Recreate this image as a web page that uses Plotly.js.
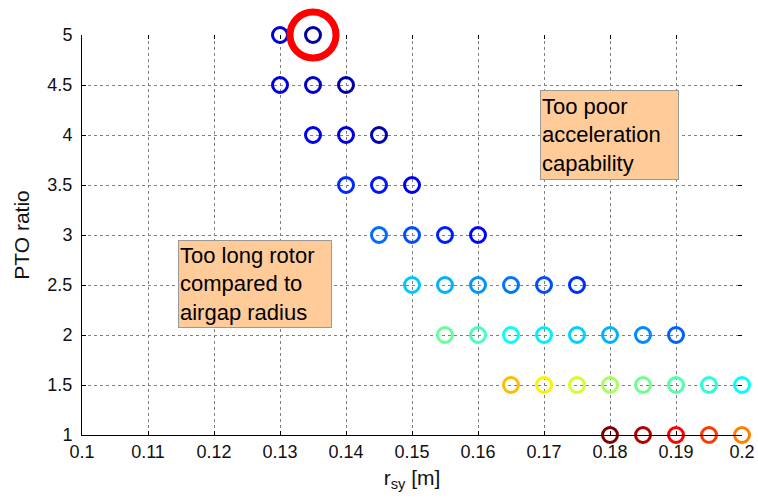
<!DOCTYPE html>
<html>
<head>
<meta charset="utf-8">
<script src="https://cdn.plot.ly/plotly-3.0.1.min.js"></script>
<style>
  html, body { margin: 0; padding: 0; background: #fff; }
  #chart { width: 758px; height: 504px; }
</style>
</head>
<body>
<div id="chart"></div>
<script>
// Design points: stator yoke radius r_sy [m] vs PTO ratio, one row per ratio
const ptoRatios = [5, 4.5, 4, 3.5, 3, 2.5, 2, 1.5, 1];

const rsyByRatio = [
  [0.13, 0.135],
  [0.13, 0.135, 0.14],
  [0.135, 0.14, 0.145],
  [0.14, 0.145, 0.15],
  [0.145, 0.15, 0.155, 0.16],
  [0.15, 0.155, 0.16, 0.165, 0.17, 0.175],
  [0.155, 0.16, 0.165, 0.17, 0.175, 0.18, 0.185, 0.19],
  [0.165, 0.17, 0.175, 0.18, 0.185, 0.19, 0.195, 0.2],
  [0.18, 0.185, 0.19, 0.195, 0.2]
];

// Normalised colour metric for each design point (0 = low, 1 = high)
const metricByRatio = [
  [0.08, 0.03],
  [0.09, 0.07, 0.04],
  [0.11, 0.09, 0.05],
  [0.165, 0.145, 0.11],
  [0.23, 0.20, 0.155, 0.13],
  [0.32, 0.30, 0.27, 0.24, 0.20, 0.17],
  [0.475, 0.445, 0.38, 0.36, 0.33, 0.30, 0.26, 0.22],
  [0.69, 0.64, 0.58, 0.54, 0.485, 0.455, 0.415, 0.375],
  [1.0, 0.95, 0.875, 0.82, 0.75]
];

// Highlighted (selected) design
const selectedRsy = [0.135];
const selectedRatio = [5];

const xTickVals = [0.1, 0.11, 0.12, 0.13, 0.14, 0.15, 0.16, 0.17, 0.18, 0.19, 0.2];
const xTickText = ['0.1', '0.11', '0.12', '0.13', '0.14', '0.15', '0.16', '0.17', '0.18', '0.19', '0.2'];
const yTickVals = [1, 1.5, 2, 2.5, 3, 3.5, 4, 4.5, 5];
const yTickText = ['1', '1.5', '2', '2.5', '3', '3.5', '4', '4.5', '5'];

const regionLabels = [
  { x: 0.11455, y: 2.95, text: 'Too long rotor<br>compared to<br>airgap radius', w: 150, h: 84 },
  { x: 0.16939, y: 4.45, text: 'Too poor<br>acceleration<br>capability', w: 135, h: 86 }
];

// MATLAB-style jet colormap
const jet = [
  [0.0, 'rgb(0,0,128)'],
  [0.125, 'rgb(0,0,255)'],
  [0.375, 'rgb(0,255,255)'],
  [0.625, 'rgb(255,255,0)'],
  [0.875, 'rgb(255,0,0)'],
  [1.0, 'rgb(128,0,0)']
];

const xs = [], ys = [], cs = [];
rsyByRatio.forEach((row, i) => {
  row.forEach((r, j) => {
    xs.push(r);
    ys.push(ptoRatios[i]);
    cs.push(metricByRatio[i][j]);
  });
});

const FONT = '"Liberation Sans", Arial, sans-serif';

const traces = [
  {
    x: xs, y: ys, type: 'scatter', mode: 'markers',
    cliponaxis: false, hoverinfo: 'x+y',
    marker: {
      symbol: 'circle-open', size: 15,
      color: cs, cmin: 0, cmax: 1, colorscale: jet, showscale: false,
      line: { width: 3 }
    },
    showlegend: false
  },
  {
    x: selectedRsy, y: selectedRatio, type: 'scatter', mode: 'markers',
    cliponaxis: false, hoverinfo: 'skip',
    marker: { symbol: 'circle-open', size: 46, color: '#ff0000', line: { width: 7, color: '#ff0000' } },
    showlegend: false
  },
  // mirrored tick marks on the top and right edges
  {
    x: [], y: [], xaxis: 'x2', yaxis: 'y2', type: 'scatter', mode: 'markers',
    hoverinfo: 'skip', showlegend: false
  }
];

const layout = {
  width: 758, height: 504,
  margin: { l: 82, r: 16, t: 35, b: 69 },
  paper_bgcolor: '#ffffff', plot_bgcolor: '#ffffff',
  font: { family: FONT, color: '#111', size: 18 },
  showlegend: false,
  xaxis: {
    range: [0.1, 0.2], tickvals: xTickVals, ticktext: xTickText,
    showgrid: true, gridcolor: '#808080', griddash: 'dot', gridwidth: 1,
    zeroline: false, showline: true, linecolor: '#000', linewidth: 1,
    ticks: 'inside', ticklen: 4, tickcolor: '#000',
    tickfont: { size: 18, family: FONT, color: '#111' },
    title: { text: 'r<sub>sy</sub> [m]', font: { size: 21, family: FONT, color: '#111' }, standoff: 9 }
  },
  yaxis: {
    range: [1, 5], tickvals: yTickVals, ticktext: yTickText,
    showgrid: true, gridcolor: '#808080', griddash: 'dot', gridwidth: 1,
    zeroline: false, showline: true, linecolor: '#000', linewidth: 1,
    ticks: 'inside', ticklen: 4, tickcolor: '#000',
    ticklabelstandoff: 5,
    tickfont: { size: 18, family: FONT, color: '#111' },
    title: { text: 'PTO ratio', font: { size: 21, family: FONT, color: '#111' }, standoff: 12 }
  },
  xaxis2: {
    overlaying: 'x', side: 'top', range: [0.1, 0.2], tickvals: xTickVals,
    showticklabels: false, showgrid: false, zeroline: false, showline: false,
    ticks: 'inside', ticklen: 4, tickcolor: '#000'
  },
  yaxis2: {
    overlaying: 'y', side: 'right', range: [1, 5], tickvals: yTickVals,
    showticklabels: false, showgrid: false, zeroline: false, showline: false,
    ticks: 'inside', ticklen: 4, tickcolor: '#000'
  },
  annotations: regionLabels.map(a => ({
    x: a.x, y: a.y, xref: 'x', yref: 'y',
    xanchor: 'left', yanchor: 'top', align: 'left', valign: 'middle',
    width: a.w, height: a.h,
    text: a.text, showarrow: false,
    font: { size: 22, family: FONT, color: '#000' },
    bgcolor: '#ffcc99', bordercolor: '#999', borderwidth: 1, borderpad: 1
  }))
};

Plotly.newPlot('chart', traces, layout, { displayModeBar: false, staticPlot: true });
</script>
</body>
</html>
